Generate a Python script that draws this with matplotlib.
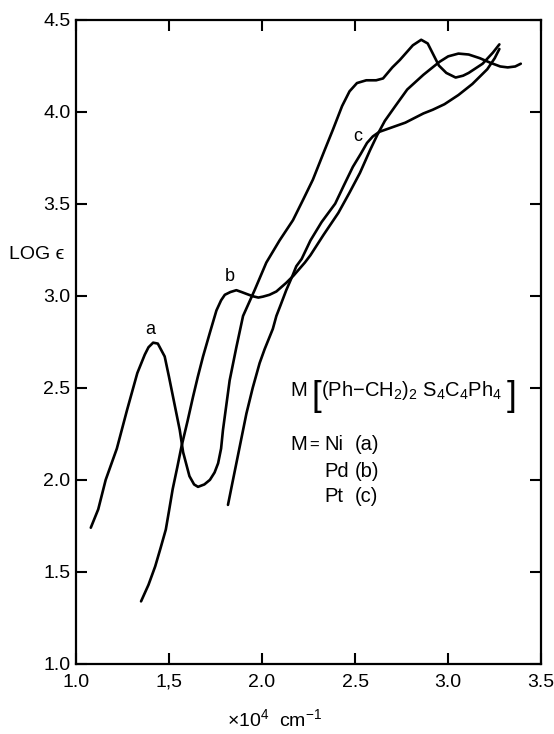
"""
Electronic absorption spectra of M[(Ph-CH2)2 S4C4Ph4], M = Ni, Pd, Pt.
log(epsilon) against wavenumber (x10^4 cm^-1), values read off the printed figure.
"""

import matplotlib
matplotlib.use("Agg")
import matplotlib.pyplot as plt

plt.rcParams["font.family"] = ["Liberation Sans", "DejaVu Sans"]
plt.rcParams["mathtext.fontset"] = "custom"
plt.rcParams["mathtext.rm"] = "Liberation Sans"
plt.rcParams["mathtext.it"] = "Liberation Sans:italic"
plt.rcParams["mathtext.default"] = "regular"

# ---- data (x in 10^4 cm^-1, y = log eps) ----
ni_x = [1.08, 1.12, 1.16, 1.22, 1.275, 1.33, 1.37, 1.39, 1.415, 1.44, 1.477, 1.50,
        1.522, 1.558, 1.576, 1.61, 1.635, 1.656, 1.69, 1.72, 1.745, 1.764, 1.78,
        1.79, 1.81, 1.826, 1.862, 1.898, 1.96, 2.023, 2.094, 2.166, 2.22, 2.273,
        2.336, 2.38, 2.43, 2.47, 2.51, 2.56, 2.613, 2.65, 2.70, 2.74, 2.81, 2.855,
        2.89, 2.92, 2.95, 2.99, 3.04, 3.08, 3.11, 3.185, 3.24, 3.275]
ni_y = [1.74, 1.84, 2.00, 2.17, 2.38, 2.58, 2.68, 2.72, 2.745, 2.74, 2.67, 2.56,
        2.45, 2.27, 2.15, 2.02, 1.975, 1.962, 1.975, 2.00, 2.04, 2.09, 2.17,
        2.27, 2.42, 2.54, 2.72, 2.89, 3.03, 3.18, 3.30, 3.41, 3.52, 3.63,
        3.79, 3.90, 4.03, 4.11, 4.155, 4.17, 4.17, 4.18, 4.24, 4.28, 4.36, 4.39,
        4.37, 4.31, 4.25, 4.21, 4.185, 4.195, 4.21, 4.26, 4.32, 4.365]

pd_x = [1.35, 1.39, 1.426, 1.455, 1.483, 1.50, 1.52, 1.545, 1.567, 1.60, 1.629,
        1.655, 1.683, 1.72, 1.755, 1.78, 1.80, 1.83, 1.862, 1.89, 1.916, 1.951,
        1.98, 2.005, 2.04, 2.077, 2.13, 2.17, 2.20, 2.23, 2.26, 2.33, 2.41, 2.47,
        2.526, 2.58, 2.62, 2.66, 2.716, 2.78, 2.867, 2.953, 3.00, 3.055, 3.11,
        3.17, 3.227, 3.28, 3.32, 3.36, 3.39]
pd_y = [1.34, 1.43, 1.53, 1.63, 1.73, 1.83, 1.95, 2.07, 2.18, 2.32, 2.45,
        2.56, 2.67, 2.80, 2.92, 2.975, 3.005, 3.02, 3.03, 3.02, 3.01, 2.997,
        2.99, 2.995, 3.005, 3.023, 3.07, 3.11, 3.145, 3.18, 3.22, 3.33, 3.45, 3.56,
        3.667, 3.79, 3.875, 3.95, 4.03, 4.12, 4.20, 4.27, 4.30, 4.315, 4.31,
        4.29, 4.265, 4.245, 4.24, 4.245, 4.26]

pt_x = [1.817, 1.84, 1.862, 1.89, 1.916, 1.95, 1.987, 2.014, 2.058, 2.077, 2.10,
        2.13, 2.16, 2.184, 2.213, 2.26, 2.32, 2.393, 2.44, 2.488, 2.53, 2.564,
        2.595, 2.63, 2.70, 2.77, 2.867, 2.917, 2.98, 3.055, 3.13, 3.21, 3.25, 3.275]
pt_y = [1.864, 1.98, 2.09, 2.23, 2.36, 2.50, 2.634, 2.71, 2.82, 2.89, 2.95,
        3.03, 3.10, 3.16, 3.20, 3.30, 3.40, 3.50, 3.60, 3.70, 3.77, 3.83,
        3.865, 3.89, 3.915, 3.94, 3.99, 4.01, 4.04, 4.09, 4.15, 4.23, 4.29, 4.34]

x_ticks = [1.0, 1.5, 2.0, 2.5, 3.0, 3.5]
x_ticklabels = ["1.0", "1,5", "2.0", "2.5", "3.0", "3.5"]
y_ticks = [1.0, 1.5, 2.0, 2.5, 3.0, 3.5, 4.0, 4.5]
y_ticklabels = ["1.0", "1.5", "2.0", "2.5", "3.0", "3.5", "4.0", "4.5"]

curve_labels = ["a", "b", "c"]
metals = ["Ni", "Pd", "Pt"]

fig = plt.figure(figsize=(5.54, 7.34), dpi=100)
ax = fig.add_axes([0.137, 0.0954, 0.840, 0.878])

for xs, ys in [(ni_x, ni_y), (pd_x, pd_y), (pt_x, pt_y)]:
    ax.plot(xs, ys, color="black", lw=1.9, solid_joinstyle="round",
            solid_capstyle="round")

ax.set_xlim(1.0, 3.5)
ax.set_ylim(1.0, 4.5)
ax.set_xticks(x_ticks)
ax.set_xticklabels(x_ticklabels)
ax.set_yticks(y_ticks)
ax.set_yticklabels(y_ticklabels)
ax.tick_params(direction="in", length=8, width=1.5, labelsize=14,
               top=True, right=True, color="black")
ax.tick_params(axis="x", pad=7)
ax.tick_params(axis="y", pad=4)
for sp in ax.spines.values():
    sp.set_linewidth(1.6)

ax.set_xlabel(r"×10$^{4}$  cm$^{-1}$", fontsize=14)
ax.xaxis.set_label_coords(0.426, -0.068)
ax.set_ylabel("LOG ϵ", fontsize=14, rotation=0, ha="center", va="center")
ax.yaxis.set_label_coords(-0.084, 0.635)

# curve labels
label_pos = [(1.398, 2.815), (1.825, 3.105), (2.513, 3.864)]
for lab, (lx, ly) in zip(curve_labels, label_pos):
    ax.text(lx, ly, lab, fontsize=13, ha="center", va="center")

# key
fs = 14.5
ax.text(2.15, 2.484, "M", fontsize=fs, ha="left", va="center")
ax.text(2.268, 2.455, "[", fontsize=25, ha="left", va="center")
inner = ax.text(2.315, 2.484, r"(Ph$-$CH$_2$)$_2$ S$_4$C$_4$Ph$_4$", fontsize=fs,
                ha="left", va="center")
fig.canvas.draw()
bb = inner.get_window_extent().transformed(ax.transData.inverted())
ax.text(bb.x1 + 0.025, 2.455, "]", fontsize=25, ha="left", va="center")

ax.text(2.15, 2.19, "M", fontsize=fs, ha="left", va="center")
ax.text(2.252, 2.19, "=", fontsize=12, ha="left", va="center")
for met, lab, yy in zip(metals, curve_labels, [2.19, 2.043, 1.908]):
    ax.text(2.335, yy, met, fontsize=fs, ha="left", va="center")
    ax.text(2.50, yy, f"({lab})", fontsize=fs, ha="left", va="center")

fig.savefig("out.png", dpi=100)
